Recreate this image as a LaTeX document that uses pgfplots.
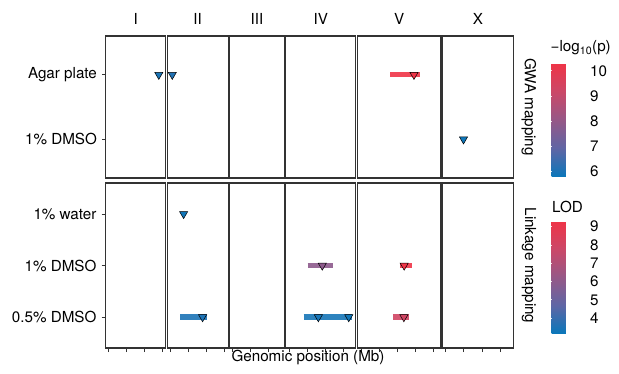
\documentclass[border=0pt]{standalone}
\usepackage{fontspec}
\setmainfont{TeX Gyre Heros}
\usepackage{pgfplots}
\pgfplotsset{compat=1.18}
\pgfplotsset{
  colormap={gm}{rgb255=(10,119,186) rgb255=(95,102,165) rgb255=(150,88,135) rgb255=(203,72,104) rgb255=(239,52,71)},
  /pgf/number format/assume math mode=true,
  facet/.style={scale only axis, anchor=south west, colormap name=gm, clip=false,
    axis line style={draw=black!80, line width=1.2pt},
    xtick=\empty, ytick=\empty,
    tick style={black!80, line width=0.8pt},
    tick align=outside, major tick length=3.5pt,
  },
  top/.style={facet, ymin=0.4, ymax=2.6, height=142pt, point meta min=5.8, point meta max=10.3},
  bot/.style={facet, ymin=0.4, ymax=3.6, height=165pt, point meta min=3.18, point meta max=9.31, xtick pos=bottom, xticklabels={,,,,,,}, major tick length=4pt},
  bar/.style={mesh, line width=5.5pt, point meta=explicit, opacity=0.9, forget plot},
  tri/.style={scatter, only marks, mark=triangle*, mark size=4.7pt, point meta=explicit,
    scatter/use mapped color={draw=black, fill=mapped color},
    mark options={rotate=180, line width=0.5pt}},
  cbar/.style={at={(parent axis.north east)}, anchor=north west, scale only axis,
    width=24.3pt, axis line style={draw opacity=0}, axis on top,
    ytick pos=both, yticklabel pos=right, major tick length=-4.5pt,
    ytick style={draw=white, draw opacity=0.8, line width=1pt},
    yticklabel style={inner sep=0pt, anchor=west, xshift=14pt}},
}
\begin{document}
\fontsize{15.2}{18}\selectfont
\begin{tikzpicture}
\path[use as bounding box] (0,0) rectangle (619pt,373pt);

% ---------- top row: GWA mapping (y: 2 = Agar plate, 1 = 1% DMSO)
\begin{axis}[top, at={(105.7pt,195pt)}, width=60.08pt, xmin=-0.754, xmax=15.826,
  ytick={1,2}, yticklabels={1\% DMSO, Agar plate}, ytick pos=left]
\addplot[tri] coordinates {(13.9,2) [6.0]};
\node at (rel axis cs:0.5,1) [yshift=17pt] {I};
\end{axis}
\begin{axis}[top, at={(167.18pt,195pt)}, width=60.93pt, xmin=-0.764, xmax=16.043]
\addplot[tri] coordinates {(0.64,2) [6.1]};
\node at (rel axis cs:0.5,1) [yshift=17pt] {II};
\end{axis}
\begin{axis}[top, at={(229.51pt,195pt)}, width=54.83pt, xmin=-0.689, xmax=14.473]
\node at (rel axis cs:0.5,1) [yshift=17pt] {III};
\end{axis}
\begin{axis}[top, at={(285.74pt,195pt)}, width=69.96pt, xmin=-0.875, xmax=18.369]
\node at (rel axis cs:0.5,1) [yshift=17pt] {IV};
\end{axis}
\begin{axis}[top, at={(357.10pt,195pt)}, width=83.96pt, xmin=-1.046, xmax=21.970]
\addplot[bar] coordinates {(8.0,2) [10.3] (16.1,2) [10.3]};
\addplot[tri] coordinates {(14.55,2) [10.3]};
\node at (rel axis cs:0.5,1) [yshift=17pt] {V};
\end{axis}
\begin{axis}[top, at={(442.46pt,195pt)}, width=70.88pt, xmin=-0.886, xmax=18.605,
  colorbar, colorbar shift/.style={xshift=38.4pt, yshift=-27.3pt},
  colorbar style={cbar, height=113.4pt, ytick={6,7,8,9,10}}]
\addplot[tri] coordinates {(4.9,1) [5.85]};
\node at (rel axis cs:0.5,1) [yshift=17pt] {X};
\end{axis}

% ---------- bottom row: Linkage mapping (y: 3 = 1% water, 2 = 1% DMSO, 1 = 0.5% DMSO)
\begin{axis}[bot, at={(105.7pt,25pt)}, width=60.08pt, xmin=-0.754, xmax=15.826,
  xtick={0,5,10,15}, ytick={1,2,3}, yticklabels={0.5\% DMSO, 1\% DMSO, 1\% water}, ytick pos=left]
\end{axis}
\begin{axis}[bot, at={(167.18pt,25pt)}, width=60.93pt, xmin=-0.764, xmax=16.043, xtick={0,5,10,15}]
\addplot[bar] coordinates {(2.88,1) [3.5] (10.24,1) [3.5]};
\addplot[tri] coordinates {(3.77,3) [3.3] (9.0,1) [3.5]};
\end{axis}
\begin{axis}[bot, at={(229.51pt,25pt)}, width=54.83pt, xmin=-0.689, xmax=14.473, xtick={0,5,10}]
\end{axis}
\begin{axis}[bot, at={(285.74pt,25pt)}, width=69.96pt, xmin=-0.875, xmax=18.369, xtick={0,5,10,15}]
\addplot[bar] coordinates {(5.14,2) [6.0] (11.99,2) [6.0]};
\addplot[bar] coordinates {(4.06,1) [3.4] (17.45,1) [3.4]};
\addplot[tri] coordinates {(9.18,2) [6.0] (8.1,1) [3.4] (16.46,1) [3.3]};
\end{axis}
\begin{axis}[bot, at={(357.10pt,25pt)}, width=83.96pt, xmin=-1.046, xmax=21.970, xtick={0,5,10,15,20}]
\addplot[bar] coordinates {(10.7,2) [9.3] (14.1,2) [9.3]};
\addplot[bar] coordinates {(8.73,1) [8.0] (13.2,1) [8.0]};
\addplot[tri] coordinates {(11.86,2) [9.3] (11.78,1) [8.0]};
\end{axis}
\begin{axis}[bot, at={(442.46pt,25pt)}, width=70.88pt, xmin=-0.886, xmax=18.605, xtick={0,5,10,15},
  colorbar, colorbar shift/.style={xshift=38.4pt, yshift=-38pt},
  colorbar style={cbar, height=112.3pt, ytick={4,5,6,7,8,9}}]
\end{axis}

% ---------- labels
\node[rotate=-90] at (529pt,266pt) {GWA mapping};
\node[rotate=-90] at (529pt,107.5pt) {Linkage mapping};
\node[anchor=west, inner sep=0pt] at (550.5pt,325pt) {−log\textsubscript{10}(p)};
\node[anchor=west, inner sep=0pt] at (552pt,166.3pt) {LOD};
\node at (308pt,15.5pt) {Genomic position (Mb)};
\end{tikzpicture}
\end{document}
